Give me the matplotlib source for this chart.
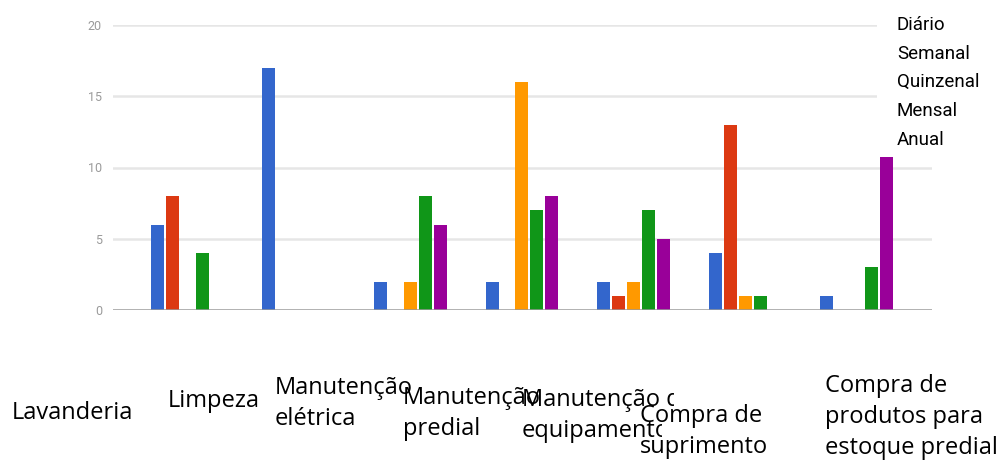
import numpy as np
import matplotlib.pyplot as plt
from matplotlib.patches import Rectangle
from matplotlib.transforms import Bbox, TransformedBbox

W, H = 1000, 466

categories = [
    "Lavanderia",
    "Limpeza",
    "Manutenção\nelétrica",
    "Manutenção\npredial",
    "Manutenção de\nequipamentos",
    "Compra de\nsuprimento",
    "Compra de\nprodutos para\nestoque predial",
]
series = ["Diário", "Semanal", "Quinzenal", "Mensal", "Anual"]
colors = ["#3366cc", "#dc3912", "#ff9900", "#109618", "#990099"]

diario = [6, 17, 2, 2, 2, 4, 1]
semanal = [8, 0, 0, 0, 1, 13, 0]
quinzenal = [0, 0, 2, 16, 2, 1, 0]
mensal = [4, 0, 8, 7, 7, 1, 3]
anual = [0, 0, 6, 8, 5, 0, 11]
values = [diario, semanal, quinzenal, mensal, anual]

y_ticks = [0, 5, 10, 15, 20]


def fx(x):
    return x / W


def fy(y):
    return 1 - y / H


fig = plt.figure(figsize=(W / 100, H / 100), dpi=100)
ax = fig.add_axes([fx(113), fy(310), fx(932) - fx(113), fy(25) - fy(310)])

x = np.arange(len(categories))
step, width = 0.1345, 0.1166
for i, (vals, color) in enumerate(zip(values, colors)):
    ax.bar(x + (i - 2) * step, vals, width=width, color=color, zorder=3)

ax.set_xlim(-0.668, 6.677)
ax.set_ylim(0, 20)
ax.set_yticks(y_ticks)
ax.set_xticks([])
for t in y_ticks[1:]:
    ax.axhline(t, color="#e6e6e6", lw=1.8, zorder=1)
ax.axhline(0, color="#9a9a9a", lw=1.8, zorder=4)
for s in ax.spines.values():
    s.set_visible(False)
ax.tick_params(axis="y", length=0, pad=8, labelsize=9, labelcolor="#9a9a9a")
for lab in ax.get_yticklabels():
    lab.set_family(["Roboto", "DejaVu Sans"])

# white panel behind the series names
fig.patches.append(Rectangle((fx(877), fy(157)), 1 - fx(877), 1 - fy(157),
                             transform=fig.transFigure, facecolor="white",
                             edgecolor="none", zorder=5))
legend_font = ["Roboto", "DejaVu Sans"]
for i, name in enumerate(series):
    fig.text(fx(897), fy(25 + i * 28.7), name, fontsize=13.5, family=legend_font,
             va="center", ha="left", color="black", zorder=6)

# category labels under the chart
cat_font = ["Open Sans", "DejaVu Sans"]
cat_pos = [(12, 401), (168, 389), (275, 376), (403, 386), None, (640, 404), (825, 374)]
for label, pos in zip(categories, cat_pos):
    if pos is None:
        continue
    fig.text(fx(pos[0]), fy(pos[1]), label, fontsize=17, family=cat_font,
             va="top", ha="left", linespacing=1.4, zorder=6)

# the equipment label is cut off by its box
first, second = categories[4].split("\n")
for txt, top, right in [(first, 388, 674), (second, 419, 662)]:
    t = fig.text(fx(522), fy(top), txt, fontsize=17, family=cat_font,
                 va="top", ha="left", zorder=6)
    t.set_clip_box(TransformedBbox(Bbox([[0, 0], [fx(right), 1]]), fig.transFigure))
    t.set_clip_on(True)

fig.savefig("out.png", dpi=100)
